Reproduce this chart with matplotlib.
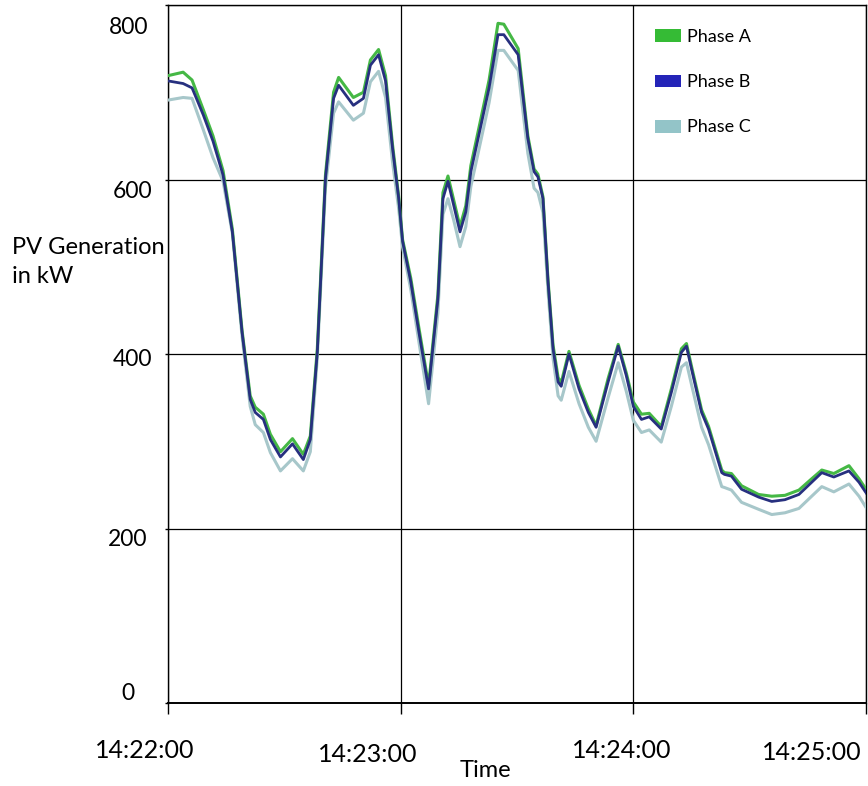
import numpy as np
import matplotlib
matplotlib.use("Agg")
import matplotlib.pyplot as plt
import matplotlib.transforms as mtransforms
from matplotlib.patches import Patch

plt.rcParams['font.family'] = ['Lato', 'DejaVu Sans']

# seconds after 14:22:00
t_sec = [0, 3.9, 6.2, 9.1, 11.6, 14.2, 16.6, 19.1, 21.2, 22.5,
         24.6, 26.4, 29.0, 32.1, 34.9, 36.7, 38.5, 40.6, 42.7, 44.0,
         47.8, 50.4, 52.2, 54.3, 56.1, 57.9, 59.5, 60.5, 62.6, 64.7,
         67.2, 69.6, 70.9, 72.2, 73.7, 75.3, 76.8, 78.1, 80.7, 82.8,
         85.1, 86.6, 90.3, 92.8, 94.4, 95.4, 96.7, 98.0, 99.3, 100.6,
         101.4, 103.4, 106.0, 108.4, 110.4, 113.5, 116.1, 118.2, 120.0, 122.1,
         124.1, 127.2, 129.8, 132.4, 133.7, 135.0, 137.6, 139.4, 142.8, 143.5,
         145.3, 147.9, 152.3, 155.7, 159.1, 162.7, 166.0, 168.6, 171.7, 175.6,
         178.2, 180.3]

phase_a = [719, 723, 714, 680, 650, 610, 543, 427, 352, 339,
           331, 308, 288, 303, 285, 306, 406, 605, 700, 717,
           694, 700, 737, 749, 719, 640, 580, 531, 487, 430,
           364, 468, 585, 604, 576, 546, 570, 616, 670, 714,
           779, 778, 750, 650, 612, 606, 580, 485, 410, 373,
           367, 403, 364, 337, 318, 372, 411, 378, 345, 331,
           332, 317, 360, 406, 412, 386, 336, 317, 267, 264,
           263, 249, 239, 237, 238, 244, 257, 267, 263, 272,
           257, 243]

phase_b = [713, 710, 705, 674, 644, 605, 540, 425, 348, 333,
           325, 302, 282, 297, 279, 302, 402, 601, 693, 708,
           685, 693, 731, 743, 713, 636, 578, 529, 483, 425,
           360, 463, 578, 598, 570, 540, 563, 609, 662, 705,
           766, 766, 743, 647, 609, 603, 578, 483, 406, 368,
           363, 400, 360, 333, 316, 368, 409, 375, 340, 325,
           328, 314, 356, 402, 409, 383, 333, 314, 264, 262,
           260, 245, 236, 231, 233, 239, 253, 264, 259, 266,
           253, 239]

phase_c = [691, 694, 693, 657, 625, 598, 538, 420, 340, 319,
           310, 287, 266, 280, 266, 288, 395, 590, 676, 689,
           668, 676, 712, 724, 694, 620, 566, 522, 474, 414,
           343, 447, 560, 578, 553, 523, 546, 592, 645, 688,
           748, 748, 725, 630, 590, 585, 562, 472, 395, 352,
           347, 380, 343, 316, 300, 350, 390, 357, 324, 310,
           313, 299, 340, 385, 390, 365, 316, 296, 248, 247,
           244, 230, 222, 216, 218, 223, 237, 248, 242, 251,
           237, 222]

x_ticks = [0, 60, 120, 180]
x_labels = ['14:22:00', '14:23:00', '14:24:00', '14:25:00']
y_ticks = [0, 200, 400, 600, 800]
y_labels = ['0', '200', '400', '600', '800']
series_names = ['Phase A', 'Phase B', 'Phase C']

line_colors = {'Phase A': '#45b845', 'Phase B': '#27307f', 'Phase C': '#a7c7ca'}
patch_colors = {'Phase A': '#35bb35', 'Phase B': '#2424b8', 'Phase C': '#93c4c8'}

fig = plt.figure(figsize=(8.68, 7.86), dpi=100)
ax = fig.add_axes([168 / 868, 1 - 703 / 786, 698 / 868, 698 / 786])

line_kw = dict(solid_joinstyle='round', solid_capstyle='round')
ax.plot(t_sec, phase_c, color=line_colors['Phase C'], lw=2.2, zorder=3, **line_kw)
ax.plot(t_sec, phase_a, color=line_colors['Phase A'], lw=2.2, zorder=4, **line_kw)
ax.plot(t_sec, phase_b, color=line_colors['Phase B'], lw=2.0, zorder=5, **line_kw)

ax.set_xlim(0, 180)
ax.set_ylim(0, 800)
ax.set_xticks(x_ticks)
ax.set_xticklabels(x_labels, fontsize=18)
ax.set_yticks(y_ticks)
ax.set_yticklabels(y_labels, fontsize=16.5)
ax.grid(True, color='black', lw=0.9)
ax.set_axisbelow(True)
for s in ax.spines.values():
    s.set_color('black')
    s.set_linewidth(1.0)
ax.spines['bottom'].set_linewidth(1.4)
ax.tick_params(axis='x', direction='out', length=8, width=1, pad=18)
ax.tick_params(axis='y', direction='out', length=2, width=1, pad=9)

# nudge individual tick labels (pixels)
x_shift = [(-23, 0), (-33, -4), (-12, 0), (-54, -2)]
for lab, (dx, dy) in zip(ax.get_xticklabels(), x_shift):
    lab.set_transform(lab.get_transform() + mtransforms.ScaledTranslation(dx / 100, dy / 100, fig.dpi_scale_trans))
y_shift = [(-18, 11), (-5, -9), (0, -4), (0, -10), (-4, -20)]
for lab, (dx, dy) in zip(ax.get_yticklabels(), y_shift):
    lab.set_transform(lab.get_transform() + mtransforms.ScaledTranslation(dx / 100, dy / 100, fig.dpi_scale_trans))

ax.set_xlabel('Time', fontsize=17)
ax.xaxis.set_label_coords((485 - 168) / 698, -(760 - 703) / 698)
ax.set_ylabel('PV Generation\nin kW', fontsize=17, rotation=0, ha='left', va='center',
              multialignment='left', linespacing=1.45)
ax.yaxis.set_label_coords((12 - 168) / 698, (703 - 262) / 698)

handles = [Patch(facecolor=patch_colors[n], edgecolor='none') for n in series_names]
ax.legend(handles, series_names, loc='upper left', frameon=False, fontsize=13,
          bbox_to_anchor=(655 / 868, 1 - 29 / 786), bbox_transform=fig.transFigure,
          borderpad=0, borderaxespad=0, handlelength=1.45, handleheight=0.7,
          handletextpad=0.3, labelspacing=1.62)

fig.savefig('out.png', dpi=100, facecolor='white')
